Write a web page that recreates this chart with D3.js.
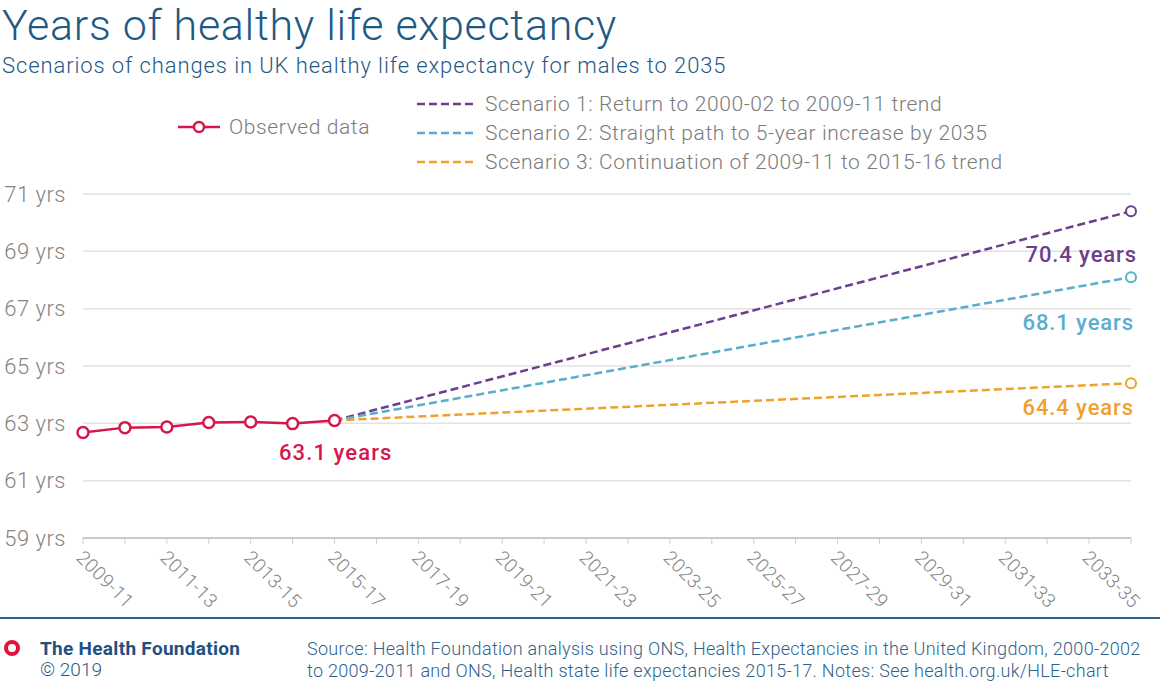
<!DOCTYPE html>
<html>
<head>
<meta charset="utf-8">
<script src="https://cdn.jsdelivr.net/npm/d3@7"></script>
<style>
  body { margin: 0; background: #fff; }
  svg { display: block; font-family: Roboto, "Noto Sans", sans-serif; }
</style>
</head>
<body>
<svg width="1160" height="683"></svg>
<script>
// periods on the x axis (3-year rolling periods)
var periods = ['2009-11', '2010-12', '2011-13', '2012-14', '2013-15', '2014-16', '2015-17',
  '2016-18', '2017-19', '2018-20', '2019-21', '2020-22', '2021-23', '2022-24', '2023-25',
  '2024-26', '2025-27', '2026-28', '2027-29', '2028-30', '2029-31', '2030-32', '2031-33',
  '2032-34', '2033-35', '2034-36'];
var tickLabels = ['2009-11', '2011-13', '2013-15', '2015-17', '2017-19', '2019-21', '2021-23',
  '2023-25', '2025-27', '2027-29', '2029-31', '2031-33', '2033-35'];
var yTicks = [59, 61, 63, 65, 67, 69, 71];

var observedPeriods = ['2009-11', '2010-12', '2011-13', '2012-14', '2013-15', '2014-16', '2015-17'];
var observedValues = [62.68, 62.85, 62.87, 63.03, 63.05, 62.99, 63.1];

var scenarioPeriods = ['2015-17', '2034-36'];
var scenario1 = [63.1, 70.4];
var scenario2 = [63.1, 68.1];
var scenario3 = [63.1, 64.4];

var scenarioNames = [
  'Scenario 1: Return to 2000-02 to 2009-11 trend',
  'Scenario 2: Straight path to 5-year increase by 2035',
  'Scenario 3: Continuation of 2009-11 to 2015-16 trend'
];

var red = '#d5174b';
var colors = ['#6b3f8d', '#5badcd', '#eea12c'];
var navy = '#1f5a85';
var grey = '#7b7b7b';

var svg = d3.select('svg');
var width = +svg.attr('width');

var x = d3.scalePoint().domain(periods).range([83, 1131]);
var y = d3.scaleLinear().domain([59, 71]).range([538, 194]);

// titles
svg.append('text').attr('x', 2).attr('y', 40)
  .style('font-size', '43px').style('font-weight', 300).style('fill', navy)
  .style('letter-spacing', '0.7px')
  .text('Years of healthy life expectancy');
svg.append('text').attr('x', 2).attr('y', 73)
  .style('font-size', '22px').style('font-weight', 300).style('fill', navy)
  .style('letter-spacing', '0.9px')
  .text('Scenarios of changes in UK healthy life expectancy for males to 2035');

// gridlines + y labels
var yAxis = svg.append('g').attr('class', 'y-axis');
yAxis.selectAll('line').data(yTicks).enter().append('line')
  .attr('x1', 83).attr('x2', 1131)
  .attr('y1', function(d) { return y(d); })
  .attr('y2', function(d) { return y(d); })
  .style('stroke', function(d) { return d === 59 ? '#b8b8b8' : '#e2e2e2'; })
  .style('stroke-width', 1.5);
yAxis.selectAll('text').data(yTicks).enter().append('text')
  .attr('x', 66).attr('y', function(d) { return y(d); })
  .attr('dy', '0.35em').attr('text-anchor', 'end')
  .style('font-size', '22px').style('font-weight', 300).style('fill', '#858585')
  .style('letter-spacing', '0.5px')
  .text(function(d) { return d + ' yrs'; });

// x axis ticks and labels
var xAxis = svg.append('g').attr('class', 'x-axis');
xAxis.selectAll('line').data(periods).enter().append('line')
  .attr('x1', function(d) { return x(d); })
  .attr('x2', function(d) { return x(d); })
  .attr('y1', 538).attr('y2', 544)
  .style('stroke', '#cfcfcf').style('stroke-width', 1);
xAxis.selectAll('text').data(tickLabels).enter().append('text')
  .attr('transform', function(d) { return 'translate(' + (x(d) - 3) + ',554) rotate(45)'; })
  .attr('dy', '0.35em')
  .style('font-size', '19px').style('font-weight', 300).style('fill', '#858585')
  .style('letter-spacing', '0.4px')
  .text(function(d) { return d; });

// scenario lines
var scenarios = [scenario1, scenario2, scenario3];
var line = d3.line()
  .x(function(d) { return x(d.p); })
  .y(function(d) { return y(d.v); });

scenarios.forEach(function(vals, i) {
  var pts = vals.map(function(v, j) { return { p: scenarioPeriods[j], v: v }; });
  svg.append('path').datum(pts)
    .attr('d', line)
    .style('fill', 'none').style('stroke', colors[i])
    .style('stroke-width', 2.5).style('stroke-dasharray', '8,4');
  var last = pts[pts.length - 1];
  svg.append('circle')
    .attr('cx', x(last.p)).attr('cy', y(last.v)).attr('r', 5)
    .style('fill', '#fff').style('stroke', colors[i]).style('stroke-width', 2);
});

// observed
var obs = observedValues.map(function(v, i) { return { p: observedPeriods[i], v: v }; });
svg.append('path').datum(obs)
  .attr('d', line)
  .style('fill', 'none').style('stroke', red).style('stroke-width', 2.5);
svg.selectAll('circle.obs').data(obs).enter().append('circle')
  .attr('class', 'obs')
  .attr('cx', function(d) { return x(d.p); })
  .attr('cy', function(d) { return y(d.v); })
  .attr('r', 5.5)
  .style('fill', '#fff').style('stroke', red).style('stroke-width', 2.5);

// value labels
var endLabels = [
  { t: scenario1[1].toFixed(1) + ' years', c: colors[0], x: 1137, y: y(scenario1[1]) + 51 },
  { t: scenario2[1].toFixed(1) + ' years', c: colors[1], x: 1134, y: y(scenario2[1]) + 53 },
  { t: scenario3[1].toFixed(1) + ' years', c: colors[2], x: 1134, y: y(scenario3[1]) + 32 }
];
svg.selectAll('text.endlab').data(endLabels).enter().append('text')
  .attr('class', 'endlab')
  .attr('x', function(d) { return d.x; }).attr('y', function(d) { return d.y; })
  .attr('text-anchor', 'end')
  .style('font-size', '22px').style('font-weight', 500).style('letter-spacing', '0.9px')
  .style('fill', function(d) { return d.c; })
  .text(function(d) { return d.t; });
svg.append('text')
  .attr('x', 279).attr('y', y(observedValues[6]) + 40)
  .style('font-size', '22px').style('font-weight', 500).style('letter-spacing', '1.1px')
  .style('fill', red)
  .text(observedValues[6].toFixed(1) + ' years');

// legend
var leg = svg.append('g').attr('class', 'legend');
leg.append('line').attr('x1', 178).attr('x2', 220).attr('y1', 127).attr('y2', 127)
  .style('stroke', red).style('stroke-width', 2.5);
leg.append('circle').attr('cx', 199).attr('cy', 127).attr('r', 5)
  .style('fill', '#fff').style('stroke', red).style('stroke-width', 2.5);
leg.append('text').attr('x', 229).attr('y', 127).attr('dy', '0.35em')
  .style('font-size', '21px').style('font-weight', 300).style('fill', grey)
  .style('letter-spacing', '0.6px')
  .text('Observed data');

scenarioNames.forEach(function(name, i) {
  var ly = 104 + i * 29;
  leg.append('line').attr('x1', 417).attr('x2', 475).attr('y1', ly).attr('y2', ly)
    .style('stroke', colors[i]).style('stroke-width', 2.5).style('stroke-dasharray', '8,4');
  leg.append('text').attr('x', 485).attr('y', ly).attr('dy', '0.35em')
    .style('font-size', '21px').style('font-weight', 300).style('fill', grey)
    .style('letter-spacing', '0.6px')
    .text(name);
});

// footer
svg.append('line').attr('x1', 0).attr('x2', width).attr('y1', 618).attr('y2', 618)
  .style('stroke', '#2f628b').style('stroke-width', 2);
svg.append('circle').attr('cx', 12).attr('cy', 648).attr('r', 6)
  .style('fill', 'none').style('stroke', '#e0123a').style('stroke-width', 4);
svg.append('text').attr('x', 40).attr('y', 655)
  .style('font-size', '19px').style('font-weight', 700).style('fill', '#1f5180')
  .style('letter-spacing', '0.3px')
  .text('The Health Foundation');
svg.append('text').attr('x', 40).attr('y', 676)
  .style('font-size', '19px').style('font-weight', 300).style('fill', navy)
  .text('\u00a9 2019');
svg.append('text').attr('x', 307).attr('y', 655)
  .style('font-size', '18px').style('font-weight', 300).style('fill', '#2f628b')
  .style('letter-spacing', '0.3px')
  .text('Source: Health Foundation analysis using ONS, Health Expectancies in the United Kingdom, 2000-2002');
svg.append('text').attr('x', 307).attr('y', 677)
  .style('font-size', '18px').style('font-weight', 300).style('fill', '#2f628b')
  .style('letter-spacing', '0.3px')
  .text('to 2009-2011 and ONS, Health state life expectancies 2015-17. Notes: See health.org.uk/HLE-chart');
</script>
</body>
</html>
